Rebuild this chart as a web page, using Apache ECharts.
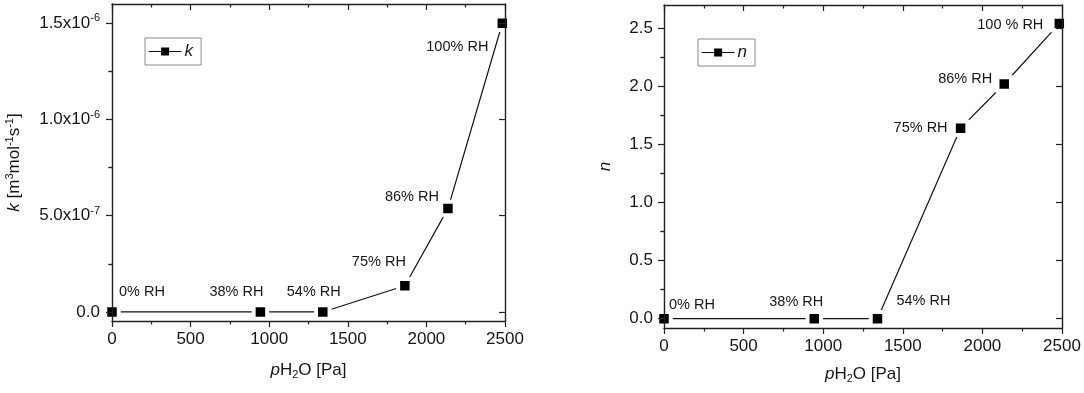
<!DOCTYPE html>
<html>
<head>
<meta charset="utf-8">
<script src="https://cdn.jsdelivr.net/npm/echarts@6/dist/echarts.min.js"></script>
<style>
html,body{margin:0;padding:0;background:#fff;}
#chart{width:1084px;height:393px;}
</style>
</head>
<body>
<div id="chart"></div>
<script>
// ---- data ----
const pH2O = [0, 944, 1341, 1863, 2137, 2483];
const kValues = [0, 0, 0, 1.36e-7, 5.37e-7, 1.5e-6];
const nValues = [0, 0, 0, 1.64, 2.02, 2.54];
const rhLabelsK = ['0% RH', '38% RH', '54% RH', '75% RH', '86% RH', '100% RH'];
const rhLabelsN = ['0% RH', '38% RH', '54% RH', '75% RH', '86% RH', '100 % RH'];
const xTicks = [0, 500, 1000, 1500, 2000, 2500];
const xTickLabels = ['0', '500', '1000', '1500', '2000', '2500'];
const kTicks = [0, 5e-7, 1e-6, 1.5e-6];
const kTickLabels = ['0.0', '5.0x10{sup|-7}', '1.0x10{sup|-6}', '1.5x10{sup|-6}'];
const kMinorTicks = [2.5e-7, 7.5e-7, 1.25e-6];
const nTicks = [0, 0.5, 1.0, 1.5, 2.0, 2.5];
const nTickLabels = ['0.0', '0.5', '1.0', '1.5', '2.0', '2.5'];
const nMinorTicks = [0.25, 0.75, 1.25, 1.75, 2.25];

// ---- layout (label offsets in px, not data) ----
const kLabelOffsets = [[30, -20], [-24, -20], [-9, -20], [-26, -24], [-36, -12], [-45, 24]];
const nLabelOffsets = [[28, -14], [-18, -17], [46, -18], [-40, 0], [-39, -5], [-49, 1]];

const FONT = '"Liberation Sans", Arial, sans-serif';
const AX = '#202020';
const TXT = '#161616';

const richBase = {
  sup: {fontSize: 11, fontFamily: FONT, color: TXT, padding: [0, 0, 9, 0]},
  sub: {fontSize: 11, fontFamily: FONT, color: TXT, padding: [8, 0, 0, 0]},
  it: {fontSize: 17, fontFamily: FONT, color: TXT, fontStyle: 'italic'}
};

function pickLabel(ticks, labels, v) {
  let best = 0;
  for (let i = 0; i < ticks.length; i++) {
    if (Math.abs(ticks[i] - v) < Math.abs(ticks[best] - v)) best = i;
  }
  return labels[best];
}

function makeData(vals, labels, offsets) {
  return pH2O.map((x, i) => ({
    value: [x, vals[i]],
    label: {show: true, formatter: labels[i], offset: offsets[i]}
  }));
}

function xAxes(gridIndex) {
  const base = {
    gridIndex, type: 'value', min: 0, max: 2500, interval: 500,
    splitLine: {show: false}, z: 5,
    axisLine: {show: true, onZero: false, lineStyle: {color: AX, width: 1.4}},
    minorTick: {show: true, splitNumber: 2, length: 3.5, lineStyle: {color: AX, width: 1.2}},
    minorSplitLine: {show: false}
  };
  return [
    Object.assign({}, base, {
      position: 'bottom',
      axisTick: {show: true, inside: false, length: 6, lineStyle: {color: AX, width: 1.2}},
      axisLabel: {show: true, fontSize: 17, fontFamily: FONT, color: TXT, margin: 10,
                  formatter: v => pickLabel(xTicks, xTickLabels, v)},
      name: '{it|p}H{sub|2}O [Pa]', nameLocation: 'middle',
      nameGap: gridIndex === 0 ? 40 : 37,
      nameTextStyle: {fontSize: 17, fontFamily: FONT, color: TXT, rich: richBase}
    }),
    Object.assign({}, base, {
      position: 'top',
      axisTick: {show: true, inside: true, length: 6, lineStyle: {color: AX, width: 1.2}},
      axisLabel: {show: false}
    })
  ];
}

function yAxes(gridIndex, min, max, ticks, tickLabels, minors, name, nameGap, labelMargin) {
  const base = {
    gridIndex, type: 'value', min, max, splitLine: {show: false}, z: 5,
    axisLine: {show: true, onZero: false, lineStyle: {color: AX, width: 1.4}}
  };
  return [
    Object.assign({}, base, {
      position: 'left',
      axisTick: {show: true, inside: false, length: 6, customValues: ticks, lineStyle: {color: AX, width: 1.2}},
      axisLabel: {
        show: true, customValues: ticks, fontSize: 17, fontFamily: FONT, color: TXT, margin: labelMargin,
        formatter: v => pickLabel(ticks, tickLabels, v),
        rich: {sup: {fontSize: 11, fontFamily: FONT, color: TXT, padding: [0, 0, 10, 0]}}
      },
      name, nameLocation: 'middle', nameGap, nameRotate: 90,
      nameTextStyle: {fontSize: 17, fontFamily: FONT, color: TXT, rich: richBase}
    }),
    Object.assign({}, base, {
      position: 'left', axisLine: {show: false},
      axisTick: {show: true, inside: false, length: 3.5, customValues: minors, lineStyle: {color: AX, width: 1.2}},
      axisLabel: {show: false}
    }),
    Object.assign({}, base, {
      position: 'right',
      axisTick: {show: true, inside: true, length: 6, customValues: ticks, lineStyle: {color: AX, width: 1.2}},
      axisLabel: {show: false}
    }),
    Object.assign({}, base, {
      position: 'right', axisLine: {show: false},
      axisTick: {show: true, inside: true, length: 3.5, customValues: minors, lineStyle: {color: AX, width: 1.2}},
      axisLabel: {show: false}
    })
  ];
}

function seriesDef(name, xi, yi, data) {
  return {
    name, type: 'line', xAxisIndex: xi, yAxisIndex: yi, data,
    symbol: 'rect', symbolSize: 13.5, z: 2,
    lineStyle: {color: '#111', width: 1.2},
    itemStyle: {color: '#000', borderColor: '#fff', borderWidth: 4},
    emphasis: {disabled: true},
    label: {show: true, position: 'inside', align: 'center', verticalAlign: 'middle',
            fontSize: 14.5, fontFamily: FONT, color: TXT},
    animation: false
  };
}

const legendBase = {
  orient: 'horizontal', itemWidth: 33, itemHeight: 10, itemGap: 5,
  borderColor: '#8a8a8a', borderWidth: 1, padding: [5, 8, 5, 3],
  itemStyle: {borderWidth: 0},
  lineStyle: {width: 1.2},
  textStyle: {fontSize: 17, fontFamily: FONT, color: TXT, fontStyle: 'italic', padding: [0, 0, 0, -2]},
  selectedMode: false
};

const chart = echarts.init(document.getElementById('chart'), null, {renderer: 'canvas'});
chart.setOption({
  animation: false,
  backgroundColor: '#fff',
  grid: [
    {left: 112, top: 4, width: 393, height: 317},
    {left: 664, top: 5, width: 398, height: 323}
  ],
  legend: [
    Object.assign({}, legendBase, {left: 145, top: 38, data: ['k']}),
    Object.assign({}, legendBase, {left: 698, top: 39, data: ['n']})
  ],
  xAxis: xAxes(0).concat(xAxes(1)),
  yAxis: yAxes(0, -4.7e-8, 1.6e-6, kTicks, kTickLabels, kMinorTicks,
               '{it|k} [m{sup|3}mol{sup|-1}s{sup|-1}]', 88, 12)
    .concat(yAxes(1, -0.08, 2.7, nTicks, nTickLabels, nMinorTicks, '{it|n}', 50, 11)),
  series: [
    seriesDef('k', 0, 0, makeData(kValues, rhLabelsK, kLabelOffsets)),
    seriesDef('n', 2, 4, makeData(nValues, rhLabelsN, nLabelOffsets))
  ]
});
</script>
</body>
</html>
